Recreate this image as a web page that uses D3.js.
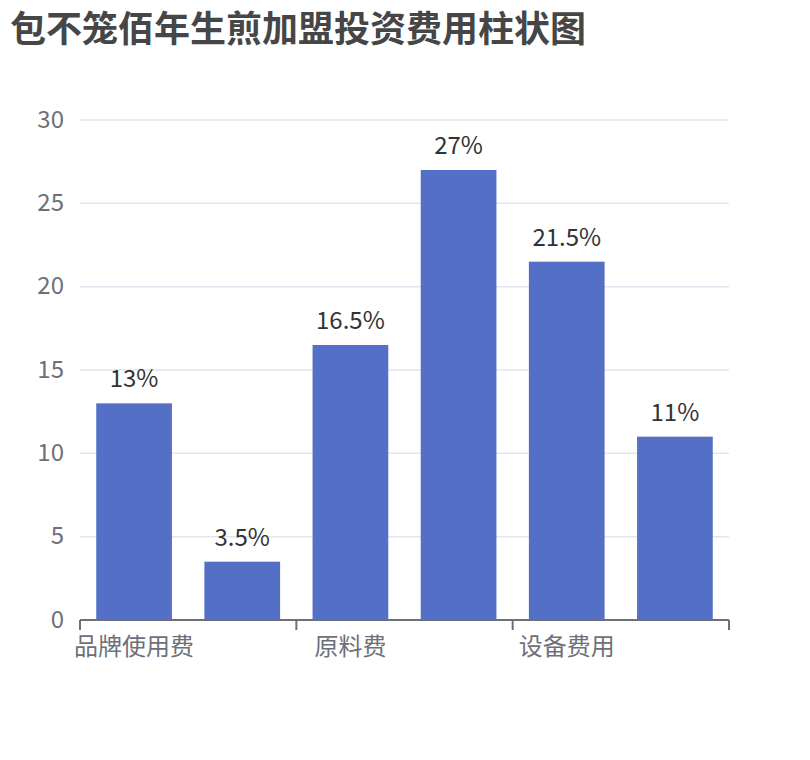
<!DOCTYPE html>
<html>
<head>
<meta charset="utf-8">
<script src="https://cdn.jsdelivr.net/npm/d3@7/dist/d3.min.js"></script>
<style>
  html, body { margin: 0; padding: 0; background: #fff; }
  svg { display: block; font-family: "Noto Sans CJK SC", "Noto Sans", sans-serif; }
</style>
</head>
<body>
<svg id="chart" width="810" height="760"></svg>
<script>
const title = "包不笼佰年生煎加盟投资费用柱状图";
const categories = ["品牌使用费", "加盟费", "原料费", "店铺租金", "设备费用", "其他费用"];
const values = [13, 3.5, 16.5, 27, 21.5, 11];
const labels = ["13%", "3.5%", "16.5%", "27%", "21.5%", "11%"];
const yTicks = [0, 5, 10, 15, 20, 25, 30];
const labelInterval = 2;

const svg = d3.select("#chart");
const plotLeft = 80, plotRight = 729, plotTop = 120, plotBottom = 620;

const x = d3.scaleBand().domain(categories).range([plotLeft, plotRight]).paddingInner(0.3).paddingOuter(0.15);
const y = d3.scaleLinear().domain([0, 30]).range([plotBottom, plotTop]);
const step = x.step();

svg.append("text")
  .attr("x", 10).attr("y", 42)
  .attr("font-size", 36).attr("font-weight", "bold")
  .attr("fill", "#464646")
  .text(title);

// grid lines
svg.append("g").selectAll("line").data(yTicks.filter(d => d > 0)).join("line")
  .attr("x1", plotLeft).attr("x2", plotRight)
  .attr("y1", d => y(d)).attr("y2", d => y(d))
  .attr("stroke", "#e0e6f1").attr("stroke-width", 1.5);

// y tick labels
svg.append("g").selectAll("text").data(yTicks).join("text")
  .attr("x", plotLeft - 16).attr("y", d => y(d) - 3)
  .attr("text-anchor", "end").attr("dominant-baseline", "central")
  .attr("font-size", 24).attr("fill", "#6e7079")
  .text(d => d);

// bars
svg.append("g").selectAll("rect").data(values).join("rect")
  .attr("x", (d, i) => x(categories[i]))
  .attr("y", d => y(d))
  .attr("width", x.bandwidth())
  .attr("height", d => y(0) - y(d))
  .attr("fill", "#5470c6");

// value labels
svg.append("g").selectAll("text").data(values).join("text")
  .attr("x", (d, i) => x(categories[i]) + x.bandwidth() / 2)
  .attr("y", d => y(d) - 16)
  .attr("text-anchor", "middle")
  .attr("font-size", 24).attr("fill", "#333")
  .text((d, i) => labels[i]);

// x axis line
svg.append("line")
  .attr("x1", plotLeft).attr("x2", plotRight)
  .attr("y1", plotBottom).attr("y2", plotBottom)
  .attr("stroke", "#6e7079").attr("stroke-width", 2);

// ticks at boundaries every labelInterval categories
const tickIdx = d3.range(0, categories.length + 1, labelInterval);
svg.append("g").selectAll("line").data(tickIdx).join("line")
  .attr("x1", i => i < categories.length ? x(categories[i]) - step * 0.15 : plotRight)
  .attr("x2", i => i < categories.length ? x(categories[i]) - step * 0.15 : plotRight)
  .attr("y1", plotBottom).attr("y2", plotBottom + 10)
  .attr("stroke", "#6e7079").attr("stroke-width", 2);

// x labels (interval)
svg.append("g").selectAll("text").data(categories.filter((c, i) => i % labelInterval === 0)).join("text")
  .attr("x", c => x(c) + x.bandwidth() / 2)
  .attr("y", plotBottom + 24)
  .attr("text-anchor", "middle").attr("dominant-baseline", "central")
  .attr("font-size", 24).attr("fill", "#6e7079")
  .text(c => c);
</script>
</body>
</html>
